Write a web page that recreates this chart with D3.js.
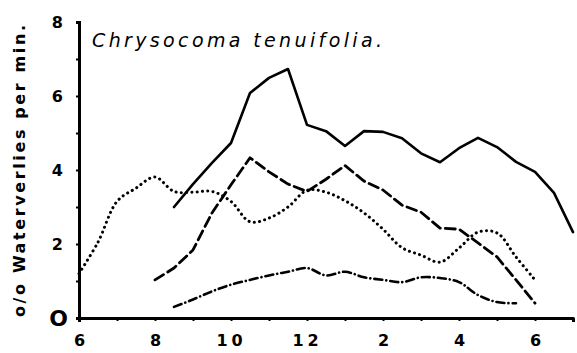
<!DOCTYPE html>
<html>
<head>
<meta charset="utf-8">
<script src="https://cdn.jsdelivr.net/npm/d3@7"></script>
<style>
  html, body { margin: 0; padding: 0; background: #fff; }
  svg { display: block; }
  text { fill: #000; }
</style>
</head>
<body>
<svg id="chart" width="577" height="353"></svg>
<script>
// Transpiration (water loss, % per minute) through the day, four series
const hoursSolid = [8.5, 9, 9.5, 10, 10.5, 11, 11.5, 12, 12.5, 13, 13.5, 14, 14.5, 15, 15.5, 16, 16.5, 17, 17.5, 18, 18.5, 19];
const solidValues = [3.0, 3.62, 4.19, 4.73, 6.08, 6.49, 6.73, 5.22, 5.05, 4.65, 5.05, 5.03, 4.86, 4.45, 4.21, 4.59, 4.87, 4.62, 4.22, 3.95, 3.38, 2.32];

const hoursDotted = [6, 6.5, 7, 7.5, 8, 8.5, 9, 9.5, 10, 10.5, 11, 11.5, 12, 12.5, 13, 13.5, 14, 14.5, 15, 15.5, 16, 16.5, 17, 17.5, 18];
const dottedValues = [1.2, 2.05, 3.15, 3.51, 3.81, 3.42, 3.4, 3.42, 3.15, 2.6, 2.7, 3.0, 3.45, 3.4, 3.17, 2.84, 2.4, 1.9, 1.7, 1.51, 1.89, 2.32, 2.3, 1.65, 1.03];

const hoursDashed = [8, 8.5, 9, 9.5, 10, 10.5, 11, 11.5, 12, 12.5, 13, 13.5, 14, 14.5, 15, 15.5, 16, 16.5, 17, 17.5, 18];
const dashedValues = [1.03, 1.35, 1.84, 2.84, 3.6, 4.33, 3.95, 3.62, 3.42, 3.75, 4.12, 3.7, 3.46, 3.05, 2.86, 2.43, 2.4, 2.03, 1.65, 1.03, 0.4];

const hoursDashDot = [8.5, 9, 9.5, 10, 10.5, 11, 11.5, 12, 12.5, 13, 13.5, 14, 14.5, 15, 15.5, 16, 16.5, 17, 17.5];
const dashDotValues = [0.3, 0.5, 0.72, 0.9, 1.03, 1.15, 1.25, 1.35, 1.15, 1.25, 1.1, 1.03, 0.97, 1.1, 1.08, 0.97, 0.62, 0.43, 0.4];

const xTickHours = [6, 7, 8, 9, 10, 11, 12, 13, 14, 15, 16, 17, 18];
const xTickLabels = {6: "6", 8: "8", 10: "10", 12: "12", 14: "2", 16: "4", 18: "6"};
const yTicks = [0, 1, 2, 3, 4, 5, 6, 7, 8];
const yTickLabels = {0: "O", 2: "2", 4: "4", 6: "6", 8: "8"};

const titleText = "Chrysocoma tenuifolia.";
const yLabelText = "o/o Waterverlies per min.";

const svg = d3.select("#chart");
const x = d3.scaleLinear().domain([6, 19]).range([79, 573]);
const y = d3.scaleLinear().domain([0, 8]).range([318, 22]);

const FONT = "'DejaVu Sans', Verdana, sans-serif";

// Axes
const xAxis = d3.axisBottom(x)
  .tickValues(xTickHours)
  .tickSize(3)
  .tickSizeOuter(4)
  .tickPadding(10)
  .tickFormat(d => xTickLabels[d] || "");
const gx = svg.append("g").attr("transform", `translate(0,${y(0)})`).call(xAxis);
gx.select(".domain").attr("stroke", "#000").attr("stroke-width", 3).attr("stroke-linejoin", "round");
gx.selectAll(".tick line").attr("stroke", "#000").attr("stroke-width", 2);
gx.selectAll(".tick text")
  .attr("font-family", FONT).attr("font-weight", "bold").attr("font-size", 16)
  .attr("letter-spacing", d => (xTickLabels[d] || "").length > 1 ? 4 : 0)
  .attr("dy", "0.95em");

const yAxis = d3.axisLeft(y)
  .tickValues(yTicks)
  .tickSize(3)
  .tickSizeOuter(3)
  .tickPadding(12)
  .tickFormat(d => yTickLabels[d] || "");
const gy = svg.append("g").attr("transform", `translate(${x(6)},0)`).call(yAxis);
gy.select(".domain").attr("stroke", "#000").attr("stroke-width", 3);
gy.selectAll(".tick line").attr("stroke", "#000").attr("stroke-width", 2);
gy.selectAll(".tick text")
  .attr("font-family", FONT).attr("font-weight", "bold")
  .attr("font-size", d => d === 0 ? 22 : 16)
  .attr("x", d => d === 0 ? -11 : -16);
svg.selectAll(".tick text").style("fill", "#000");

// Series lines
const lineGen = (curve) => d3.line().x(d => x(d[0])).y(d => y(d[1])).curve(curve);
const series = [
  { hours: hoursSolid, values: solidValues, dash: null, width: 2.6, curve: d3.curveLinear },
  { hours: hoursDashed, values: dashedValues, dash: "10 5", width: 2.8, curve: d3.curveLinear },
  { hours: hoursDotted, values: dottedValues, dash: "0.1 5.2", width: 3, curve: d3.curveCatmullRom },
  { hours: hoursDashDot, values: dashDotValues, dash: "8 4 0.1 4", width: 2.6, curve: d3.curveCatmullRom }
];
series.forEach(s => {
  const pts = s.hours.map((h, i) => [h, s.values[i]]);
  svg.append("path")
    .datum(pts)
    .attr("d", lineGen(s.curve))
    .attr("fill", "none")
    .attr("stroke", "#000")
    .attr("stroke-width", s.width)
    .attr("stroke-linecap", "round")
    .attr("stroke-linejoin", "round")
    .attr("stroke-dasharray", s.dash);
});

// Title
svg.append("text")
  .attr("x", 92).attr("y", 47)
  .attr("font-family", FONT).attr("font-style", "italic").attr("font-size", 19)
  .attr("textLength", 290).attr("lengthAdjust", "spacing")
  .text(titleText);

// Y axis label
svg.append("text")
  .attr("transform", "translate(25,171) rotate(-90)")
  .attr("text-anchor", "middle")
  .attr("font-family", FONT).attr("font-weight", "bold").attr("font-size", 16)
  .attr("textLength", 292).attr("lengthAdjust", "spacing")
  .text(yLabelText);
</script>
</body>
</html>
